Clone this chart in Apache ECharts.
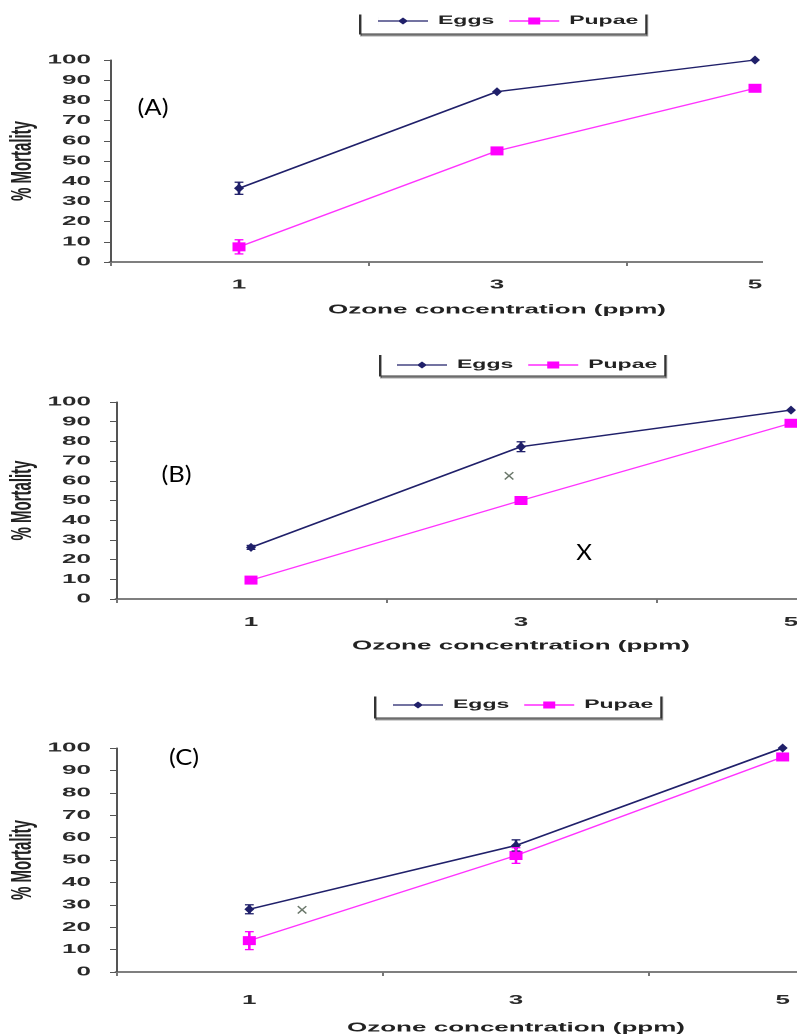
<!DOCTYPE html>
<html>
<head>
<meta charset="utf-8">
<script src="https://cdn.jsdelivr.net/npm/echarts@6/dist/echarts.min.js"></script>
<style>
  html, body { margin: 0; padding: 0; background: #fff; overflow: hidden; }
  #c { width: 398.5px; height: 1036px; transform: scaleX(2); transform-origin: 0 0; }
</style>
</head>
<body>
<div id="c"></div>
<script>
// ---- data ----
const categories = ['1', '3', '5'];
const yTicks = [0, 10, 20, 30, 40, 50, 60, 70, 80, 90, 100];
const seriesNames = ['Eggs', 'Pupae'];
const panelLabels = ['(A)', '(B)', '(C)'];

const eggsA = [36.5, 84.3, 100];
const pupaeA = [7.5, 55, 86];
const eggsErrA = [3, 0, 0];
const pupaeErrA = [3.5, 0, 0];

const eggsB = [26.2, 77.3, 95.9];
const pupaeB = [9.6, 50, 89.2];
const eggsErrB = [1, 2.5, 0];
const pupaeErrB = [1.5, 0, 0];

const eggsC = [28, 56.5, 100];
const pupaeC = [14, 52, 96];
const eggsErrC = [2, 2.5, 0];
const pupaeErrC = [4, 3.5, 0];

const xTitle = 'Ozone concentration (ppm)';
const yTitle = '% Mortality';

// ---- styling / layout ----
const EGG = '#20206a';
const PUP = '#ff00ff';
const PUP_LINE = '#ff33ff';
const FONT = '"Liberation Sans", Arial, sans-serif';

const panels = [
  { eggs: eggsA, pupae: pupaeA, eErr: eggsErrA, pErr: pupaeErrA,
    grid: { left: 55, top: 60, width: 387, height: 202 },
    yLabelMargin: 9.5, yNameGap: 36, xLabelMargin: 16.5, xNameGap: 41.5,
    legend: { left: 180, top: 7, padding: [8, 4, 7, 9] } },
  { eggs: eggsB, pupae: pupaeB, eErr: eggsErrB, pErr: pupaeErrB,
    grid: { left: 58, top: 402, width: 405, height: 197 },
    yLabelMargin: 12.5, yNameGap: 39, xLabelMargin: 17, xNameGap: 40.5,
    legend: { left: 190, top: 351, padding: [8, 4, 5, 8.5] } },
  { eggs: eggsC, pupae: pupaeC, eErr: eggsErrC, pErr: pupaeErrC,
    grid: { left: 58, top: 748, width: 400, height: 224 },
    yLabelMargin: 12.5, yNameGap: 39, xLabelMargin: 22, xNameGap: 49.5,
    legend: { left: 187.5, top: 691, padding: [8, 4, 7, 9] } }
];

const eggIcon = 'path://M0,3.4 L25,3.4 L25,4.6 L0,4.6 Z M12.5,0.5 L15,4 L12.5,7.5 L10,4 Z M0,0 L0.01,0 L0.01,8 L0,8 Z';
const pupIcon = 'path://M0,3.4 L25,3.4 L25,4.6 L0,4.6 Z M9.5,0.5 L15.5,0.5 L15.5,7.5 L9.5,7.5 Z M0,0 L0.01,0 L0.01,8 L0,8 Z';

function errData(vals, errs) {
  const out = [];
  vals.forEach((v, i) => { if (errs[i] > 0) out.push([i, v - errs[i], v + errs[i]]); });
  return out;
}
function errRender(color) {
  return function (params, api) {
    const x = api.value(0);
    const p1 = api.coord([x, api.value(1)]);
    const p2 = api.coord([x, api.value(2)]);
    const hw = 2.2;
    const st = { stroke: color, lineWidth: 1.3 };
    return { type: 'group', children: [
      { type: 'line', shape: { x1: p1[0], y1: p1[1], x2: p2[0], y2: p2[1] }, style: st },
      { type: 'line', shape: { x1: p1[0] - hw, y1: p1[1], x2: p1[0] + hw, y2: p1[1] }, style: st },
      { type: 'line', shape: { x1: p2[0] - hw, y1: p2[1], x2: p2[0] + hw, y2: p2[1] }, style: st }
    ]};
  };
}

const grids = [], xAxes = [], yAxes = [], series = [], legends = [];
panels.forEach((p, i) => {
  grids.push(Object.assign({ show: false, containLabel: false, outerBoundsMode: 'none' }, p.grid));
  xAxes.push({
    type: 'category', gridIndex: i, data: categories, boundaryGap: true,
    axisLine: { lineStyle: { color: '#555', width: 1.5 } },
    axisTick: { show: true, length: 4, lineStyle: { color: '#777', width: 1 } },
    axisLabel: { fontSize: 13, color: '#2a2a2a', fontWeight: 'bold', fontFamily: FONT, margin: p.xLabelMargin },
    name: xTitle, nameLocation: 'middle', nameGap: p.xNameGap, nameMoveOverlap: false,
    nameTextStyle: { fontSize: 13, fontWeight: 'bold', color: '#222', fontFamily: FONT },
    splitLine: { show: false }
  });
  yAxes.push({
    type: 'value', gridIndex: i, min: yTicks[0], max: yTicks[yTicks.length - 1], interval: yTicks[1] - yTicks[0],
    axisLine: { show: true, lineStyle: { color: '#555', width: 1 } },
    axisTick: { show: true, length: 3, lineStyle: { color: '#555' } },
    axisLabel: { fontSize: 13, color: '#2a2a2a', fontWeight: 'bold', fontFamily: FONT, margin: p.yLabelMargin },
    splitLine: { show: false },
    name: yTitle, nameLocation: 'middle', nameGap: p.yNameGap, nameRotate: 90, nameMoveOverlap: false,
    nameTextStyle: { fontSize: 15, fontWeight: 'bold', color: '#222', fontFamily: FONT }
  });
  series.push({
    name: seriesNames[0], type: 'line', xAxisIndex: i, yAxisIndex: i, data: p.eggs,
    symbol: 'diamond', symbolSize: [5, 9], showAllSymbol: true,
    lineStyle: { color: EGG, width: 1.4 }, itemStyle: { color: EGG }, z: 3
  });
  series.push({
    name: seriesNames[1], type: 'line', xAxisIndex: i, yAxisIndex: i, data: p.pupae,
    symbol: 'rect', symbolSize: [6.5, 9], showAllSymbol: true,
    lineStyle: { color: PUP_LINE, width: 1.2 }, itemStyle: { color: PUP }, z: 3
  });
  series.push({
    name: 'eggsErr' + i, type: 'custom', xAxisIndex: i, yAxisIndex: i,
    data: errData(p.eggs, p.eErr), encode: { x: 0, y: [1, 2] },
    renderItem: errRender(EGG), z: 4
  });
  series.push({
    name: 'pupaeErr' + i, type: 'custom', xAxisIndex: i, yAxisIndex: i,
    data: errData(p.pupae, p.pErr), encode: { x: 0, y: [1, 2] },
    renderItem: errRender(PUP), z: 4
  });
  legends.push({
    data: [{ name: seriesNames[0], icon: eggIcon }, { name: seriesNames[1], icon: pupIcon }],
    left: p.legend.left, top: p.legend.top, padding: p.legend.padding,
    orient: 'horizontal', itemWidth: 25, itemHeight: 8, itemGap: 7.5,
    borderColor: '#333', borderWidth: 1, backgroundColor: '#fff',
    shadowColor: 'rgba(0,0,0,0.35)', shadowOffsetY: 2, shadowOffsetX: 0.5, shadowBlur: 0,
    selectedMode: false,
    textStyle: { fontSize: 11.5, fontWeight: 'bold', color: '#222', fontFamily: FONT }
  });
});

const LBL = { fontSize: 22, fontFamily: 'Lato, "Open Sans", sans-serif', fill: '#000', align: 'center', verticalAlign: 'middle' };
const graphics = [
  // crop masks (source picture was cut at these edges)
  { type: 'rect', shape: { x: 381.5, y: 38, width: 20, height: 236 }, style: { fill: '#fff' }, z: 100 },
  { type: 'rect', shape: { x: 165, y: 0, width: 175, height: 14.5 }, style: { fill: '#fff' }, z: 100 },
  { type: 'rect', shape: { x: 175, y: 335, width: 175, height: 20 }, style: { fill: '#fff' }, z: 100 },
  { type: 'rect', shape: { x: 170, y: 675, width: 175, height: 21.5 }, style: { fill: '#fff' }, z: 100 },
  // panel labels
  { type: 'text', x: 76.5, y: 108, scaleX: 0.58, style: Object.assign({ text: panelLabels[0] }, LBL), z: 101 },
  { type: 'text', x: 88.25, y: 475, scaleX: 0.58, style: Object.assign({ text: panelLabels[1] }, LBL), z: 101 },
  { type: 'text', x: 92, y: 758, scaleX: 0.58, style: Object.assign({ text: panelLabels[2] }, LBL), z: 101 },
  { type: 'text', x: 292, y: 553, scaleX: 0.55, style: Object.assign({ text: 'X' }, LBL), z: 101 },
  // stray marks
  { type: 'text', x: 254.5, y: 477, scaleX: 0.6, style: { text: '×', fontSize: 18, fontFamily: FONT, fill: '#6b786b', align: 'center', verticalAlign: 'middle' }, z: 101 },
  { type: 'text', x: 151, y: 911, scaleX: 0.6, style: { text: '×', fontSize: 18, fontFamily: FONT, fill: '#6b786b', align: 'center', verticalAlign: 'middle' }, z: 101 }
];

const chart = echarts.init(document.getElementById('c'), null, { renderer: 'canvas', devicePixelRatio: 2 });
chart.setOption({
  animation: false,
  backgroundColor: '#fff',
  grid: grids,
  xAxis: xAxes,
  yAxis: yAxes,
  legend: legends,
  series: series,
  graphic: { elements: graphics }
});
</script>
</body>
</html>
